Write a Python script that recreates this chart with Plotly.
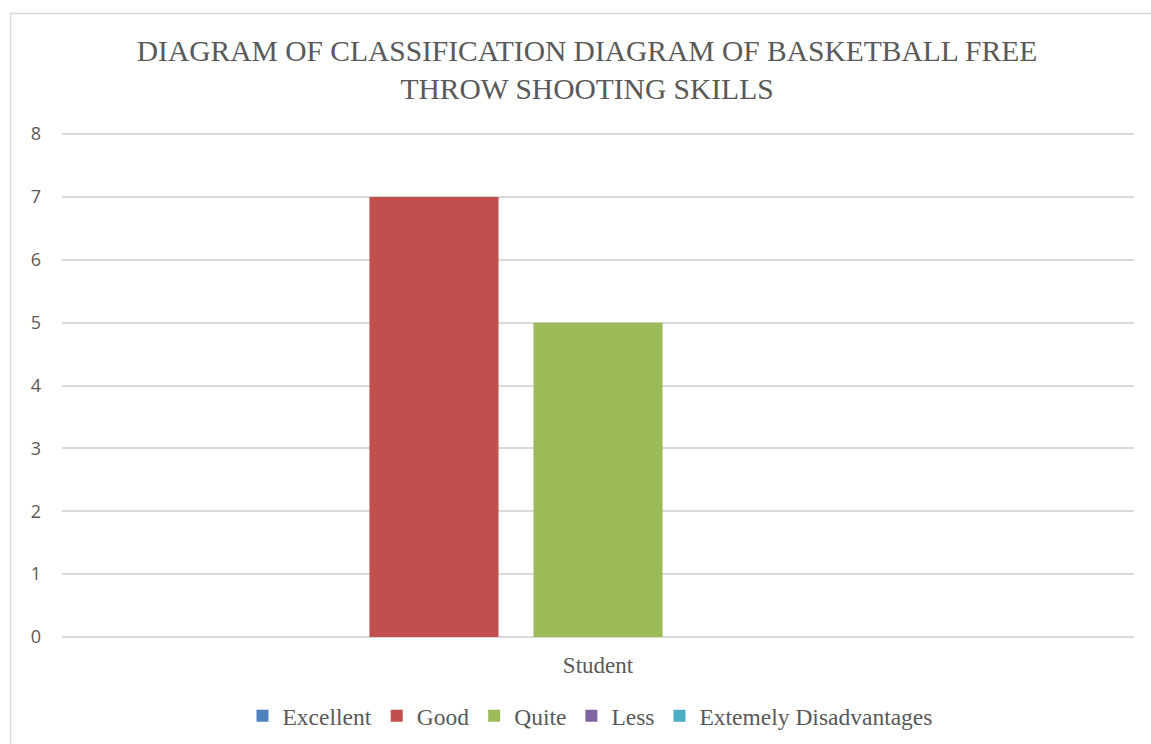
import plotly.graph_objects as go

categories = ["Student"]
series_names = ["Excellent", "Good", "Quite", "Less", "Extemely Disadvantages"]
series_values = [[0], [7], [5], [0], [0]]
colors = ["#4f81bd", "#c0504d", "#9bbb59", "#8064a2", "#4bacc6"]
y_ticks = [0, 1, 2, 3, 4, 5, 6, 7, 8]

fig = go.Figure()
for name, vals, col in zip(series_names, series_values, colors):
    fig.add_trace(go.Bar(x=categories, y=vals, name=name, marker_color=col,
                         marker_line_width=0))

W, H = 1151, 744
L, R, T, B = 62, 17, 131, 107
pw, ph = W - L - R, H - T - B
ymax = 8.05

def px2x(px):
    return (px - L) / pw

def py2y(py):
    return (H - B - py) / ph

fig.update_layout(
    width=W, height=H,
    margin=dict(l=L, r=R, t=T, b=B),
    paper_bgcolor="white", plot_bgcolor="white",
    barmode="group", bargap=0.235, bargroupgap=0.213,
    title=dict(text="DIAGRAM OF CLASSIFICATION DIAGRAM OF BASKETBALL FREE<br>THROW SHOOTING SKILLS",
               x=px2x(587), xref="paper", xanchor="center", y=1 - 61 / H, yanchor="middle",
               font=dict(family="Liberation Serif", size=29.5, color="#595959")),
    legend=dict(orientation="h", x=px2x(590), xanchor="center", y=1 - 716 / H, yanchor="middle",
                yref="container",
                font=dict(family="Liberation Serif", size=23.5, color="#595959"),
                itemwidth=30, tracegroupgap=0),
    showlegend=True,
    xaxis=dict(showgrid=False, showline=False, ticks="",
               tickfont=dict(family="Liberation Serif", size=23, color="#595959"),
               ticklabelstandoff=12),
    yaxis=dict(range=[0, ymax], tickvals=y_ticks, showgrid=True, gridcolor="#d9d9d9",
               gridwidth=1.5, zeroline=True, zerolinecolor="#d9d9d9", zerolinewidth=1.5,
               showline=False, ticks="",
               tickfont=dict(family="Open Sans", size=18, color="#595959"),
               ticklabelstandoff=20),
    shapes=[dict(type="rect", xref="paper", yref="paper",
                 x0=px2x(10.5), x1=px2x(1170), y0=py2y(760), y1=py2y(13.5),
                 line=dict(color="#d9d9d9", width=1.5), fillcolor="rgba(0,0,0,0)",
                 layer="below")],
)

fig.write_html("out.html")
